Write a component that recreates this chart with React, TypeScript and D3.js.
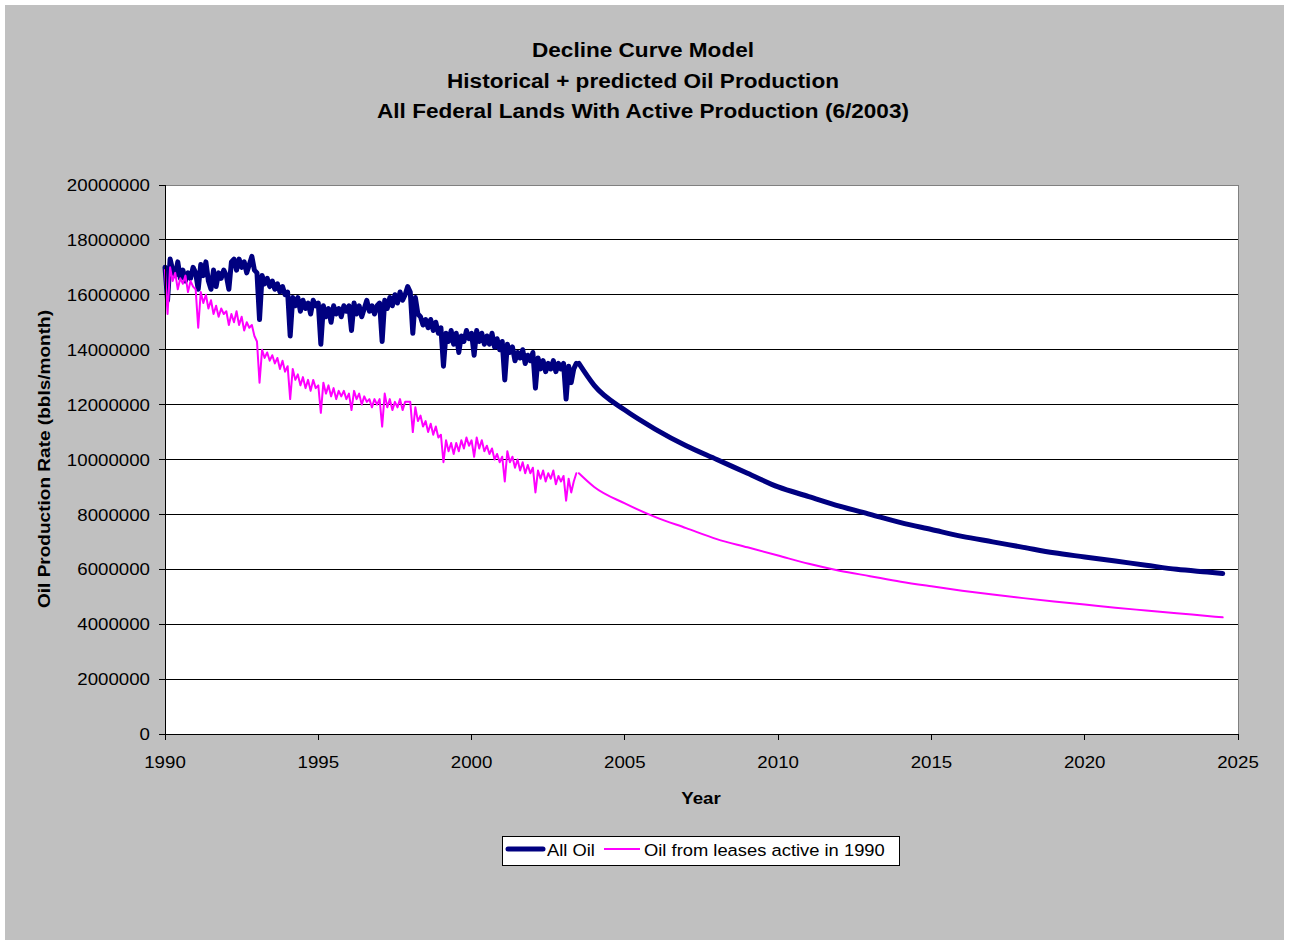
import React from "react";
import * as d3 from "d3";

// ---------------- DATA ----------------
const titleLines = [
  "Decline Curve Model",
  "Historical + predicted Oil Production",
  "All Federal Lands With Active Production (6/2003)",
];
const xTicks = [1990, 1995, 2000, 2005, 2010, 2015, 2020, 2025];
const yTicks = [0, 2000000, 4000000, 6000000, 8000000, 10000000, 12000000, 14000000, 16000000, 18000000, 20000000];
const seriesNames = ["All Oil", "Oil from leases active in 1990"];
const histStartYear = 1990; // monthly values, Jan 1990 onward (millions of bbls/month)

const allOilHist = [
  17.0, 15.8, 17.3, 16.9, 16.7, 17.2, 16.6, 16.9, 16.5, 16.8, 16.6, 17.0,
  16.8, 16.2, 17.1, 16.7, 17.2, 16.5, 16.2, 16.9, 16.3, 16.8, 16.6, 16.9,
  16.7, 16.2, 17.2, 17.3, 16.9, 17.3, 17.0, 17.2, 16.8, 17.1, 17.4, 16.9,
  16.8, 15.1, 16.7, 16.4, 16.6, 16.3, 16.5, 16.2, 16.4, 16.1, 16.3, 16.0,
  16.1, 14.5, 15.9, 15.6, 15.9, 15.4, 15.8, 15.5, 15.7, 15.3, 15.8, 15.6,
  15.7, 14.2, 15.6, 15.2, 15.5, 15.0, 15.6, 15.3, 15.5, 15.2, 15.6, 15.4,
  15.6, 14.7, 15.7, 15.3, 15.6, 15.2, 15.5, 15.8, 15.4, 15.6, 15.3, 15.6,
  15.7, 14.3, 15.8, 15.5, 15.9, 15.6, 16.0, 15.7, 16.1, 15.8, 16.0, 16.3,
  16.1, 14.6, 15.9, 15.3, 15.2, 14.9, 15.1, 14.8, 15.1, 14.7, 15.0, 14.6,
  14.8, 13.4, 14.6, 14.3, 14.7, 14.2, 14.6, 13.9, 14.5, 14.3, 14.7, 14.4,
  14.6, 13.8, 14.7, 14.3, 14.6, 14.2, 14.5, 14.2, 14.6, 14.1, 14.4, 14.0,
  14.3, 12.9, 14.2, 13.9, 14.1, 13.6, 13.9, 13.7, 14.0, 13.5, 13.8, 13.6,
  13.9, 12.6, 13.7, 13.3, 13.6, 13.2, 13.5, 13.3, 13.6, 13.2, 13.5, 13.3,
  13.5, 12.2, 13.4, 12.8, 13.3, 13.5,
];
const leases1990Hist = [
  16.9, 15.3, 17.0, 16.5, 16.8, 16.2, 16.6, 16.4, 16.7, 16.1, 16.5, 16.3,
  16.2, 14.8, 16.1, 15.7, 16.0, 15.5, 15.8, 15.3, 15.6, 15.2, 15.5, 15.3,
  15.4, 14.9, 15.3, 15.0, 15.4, 14.9, 15.2, 14.7, 15.0, 14.8, 14.9, 14.5,
  14.3, 12.8, 14.0, 13.7, 13.9, 13.6, 13.8, 13.5, 13.7, 13.3, 13.6, 13.2,
  13.4, 12.2, 13.3, 12.9, 13.1, 12.7, 13.0, 12.6, 12.9, 12.5, 12.9, 12.6,
  12.7, 11.7, 12.8, 12.4, 12.7, 12.3, 12.6, 12.2, 12.5, 12.3, 12.5, 12.2,
  12.4, 11.8, 12.5, 12.2, 12.4, 12.0, 12.3, 12.1, 12.2, 11.9, 12.2, 12.0,
  12.2, 11.2, 12.4, 11.9, 12.2, 11.8, 12.1, 11.9, 12.2, 11.8, 12.1, 12.1,
  12.1, 11.0, 11.9, 11.4, 11.6, 11.2, 11.4, 11.0, 11.3, 10.9, 11.2, 10.8,
  10.9, 9.9, 10.7, 10.3, 10.6, 10.2, 10.6, 10.3, 10.7, 10.4, 10.8, 10.5,
  10.7, 10.1, 10.8, 10.4, 10.7, 10.3, 10.5, 10.2, 10.4, 10.0, 10.2, 9.9,
  10.1, 9.2, 10.3, 9.9, 10.1, 9.7, 10.0, 9.6, 9.9, 9.5, 9.8, 9.5,
  9.7, 8.8, 9.6, 9.3, 9.6, 9.2, 9.5, 9.3, 9.6, 9.1, 9.4, 9.2,
  9.4, 8.5, 9.3, 8.8, 9.2, 9.5,
];

const forecastYears = [2003.5, 2004, 2005, 2006, 2007, 2008, 2009, 2010, 2011, 2012, 2013, 2014, 2015, 2016, 2017, 2018, 2019, 2020, 2021, 2022, 2023, 2024, 2024.5];
const allOilForecast = [13.5, 12.7, 11.8, 11.1, 10.5, 10.0, 9.5, 9.0, 8.65, 8.3, 8.0, 7.7, 7.45, 7.2, 7.0, 6.8, 6.6, 6.45, 6.3, 6.15, 6.0, 5.9, 5.85];
const leases1990Forecast = [9.5, 9.0, 8.4, 7.9, 7.5, 7.1, 6.8, 6.5, 6.2, 5.95, 5.75, 5.55, 5.38, 5.22, 5.08, 4.95, 4.83, 4.72, 4.6, 4.5, 4.4, 4.3, 4.25];

// ---------------- CHART ----------------
const W = 1293;
const H = 940;
const FONT = "'Liberation Sans', Arial, sans-serif";
const plot = { left: 165, right: 1238, top: 185, bottom: 734 };
const NAVY = "#000080";
const MAGENTA = "#FF00FF";

type TProps = { x: number; y: number; sx?: number; rot?: number; anchor?: string; size: number; bold?: boolean; dy?: string; children: React.ReactNode };
function T({ x, y, sx = 1.1, rot = 0, anchor = "start", size, bold, dy, children }: TProps) {
  return (
    <text
      transform={`translate(${x},${y})${rot ? ` rotate(${rot})` : ""} scale(${sx},1)`}
      textAnchor={anchor}
      fontSize={size}
      fontWeight={bold ? "bold" : "normal"}
      dy={dy}
      fill="#000"
    >
      {children}
    </text>
  );
}

export default function App() {
  const x = d3.scaleLinear().domain([1990, 2025]).range([plot.left, plot.right]);
  const y = d3.scaleLinear().domain([0, 20000000]).range([plot.bottom, plot.top]);

  const hist = (arr: number[]) => arr.map((v, i) => [histStartYear + i / 12, v * 1e6] as [number, number]);
  const fc = (arr: number[]) => arr.map((v, i) => [forecastYears[i], v * 1e6] as [number, number]);

  const lineLin = d3.line<[number, number]>().x(d => x(d[0])).y(d => y(d[1]));
  const lineSmooth = d3.line<[number, number]>().x(d => x(d[0])).y(d => y(d[1])).curve(d3.curveMonotoneX);

  const series = [
    { name: seriesNames[0], color: NAVY, width: 5, h: hist(allOilHist), f: fc(allOilForecast) },
    { name: seriesNames[1], color: MAGENTA, width: 2, h: hist(leases1990Hist), f: fc(leases1990Forecast) },
  ];

  return (
    <svg width={W} height={H} style={{ position: "absolute", left: 0, top: 0, display: "block" }} fontFamily={FONT}>
      <rect x={0} y={0} width={W} height={H} fill="#ffffff" />
      <rect x={5} y={5} width={1279} height={H - 5} fill="#C0C0C0" />
      {titleLines.map((t, i) => (
        <T key={i} x={643} y={57 + i * 30.5} anchor="middle" size={21} sx={1.075} bold>
          {t}
        </T>
      ))}
      <rect x={plot.left} y={plot.top} width={plot.right - plot.left} height={plot.bottom - plot.top} fill="#ffffff" />
      {yTicks.slice(1).map(t => (
        <line key={t} x1={plot.left} x2={plot.right} y1={y(t)} y2={y(t)} stroke="#000" strokeWidth={1} shapeRendering="crispEdges" />
      ))}
      <line x1={plot.left} x2={plot.right} y1={plot.top} y2={plot.top} stroke="#808080" shapeRendering="crispEdges" />
      <line x1={plot.right} x2={plot.right} y1={plot.top} y2={plot.bottom} stroke="#808080" shapeRendering="crispEdges" />
      {series.map(s => (
        <g key={s.name} fill="none" stroke={s.color} strokeWidth={s.width} strokeLinejoin="round" strokeLinecap="round">
          <path d={lineLin(s.h) || ""} />
          <path d={lineSmooth(s.f) || ""} />
        </g>
      ))}
      <line x1={plot.left} x2={plot.left} y1={plot.top} y2={plot.bottom} stroke="#000" shapeRendering="crispEdges" />
      <line x1={plot.left} x2={plot.right} y1={plot.bottom} y2={plot.bottom} stroke="#000" shapeRendering="crispEdges" />
      {yTicks.map(t => (
        <g key={t}>
          <line x1={plot.left - 6} x2={plot.left} y1={y(t)} y2={y(t)} stroke="#000" shapeRendering="crispEdges" />
          <T x={150} y={y(t)} dy="0.36em" anchor="end" size={17}>
            {String(t)}
          </T>
        </g>
      ))}
      {xTicks.map(t => (
        <g key={t}>
          <line x1={x(t)} x2={x(t)} y1={plot.bottom} y2={plot.bottom + 6} stroke="#000" shapeRendering="crispEdges" />
          <T x={x(t)} y={768} anchor="middle" size={17}>
            {t}
          </T>
        </g>
      ))}
      <T x={701} y={804} anchor="middle" size={17} bold>
        Year
      </T>
      <T x={50} y={459} rot={-90} anchor="middle" size={17} sx={1.12} bold>
        Oil Production Rate (bbls/month)
      </T>
      <g>
        <rect x={502.5} y={836.5} width={397} height={29} fill="#fff" stroke="#000" />
        <line x1={508} x2={543} y1={849} y2={849} stroke={NAVY} strokeWidth={5} strokeLinecap="round" />
        <T x={547} y={856} size={17} sx={1.08}>{seriesNames[0]}</T>
        <line x1={604} x2={640} y1={849} y2={849} stroke={MAGENTA} strokeWidth={2} />
        <T x={644} y={856} size={17} sx={1.08}>{seriesNames[1]}</T>
      </g>
    </svg>
  );
}
